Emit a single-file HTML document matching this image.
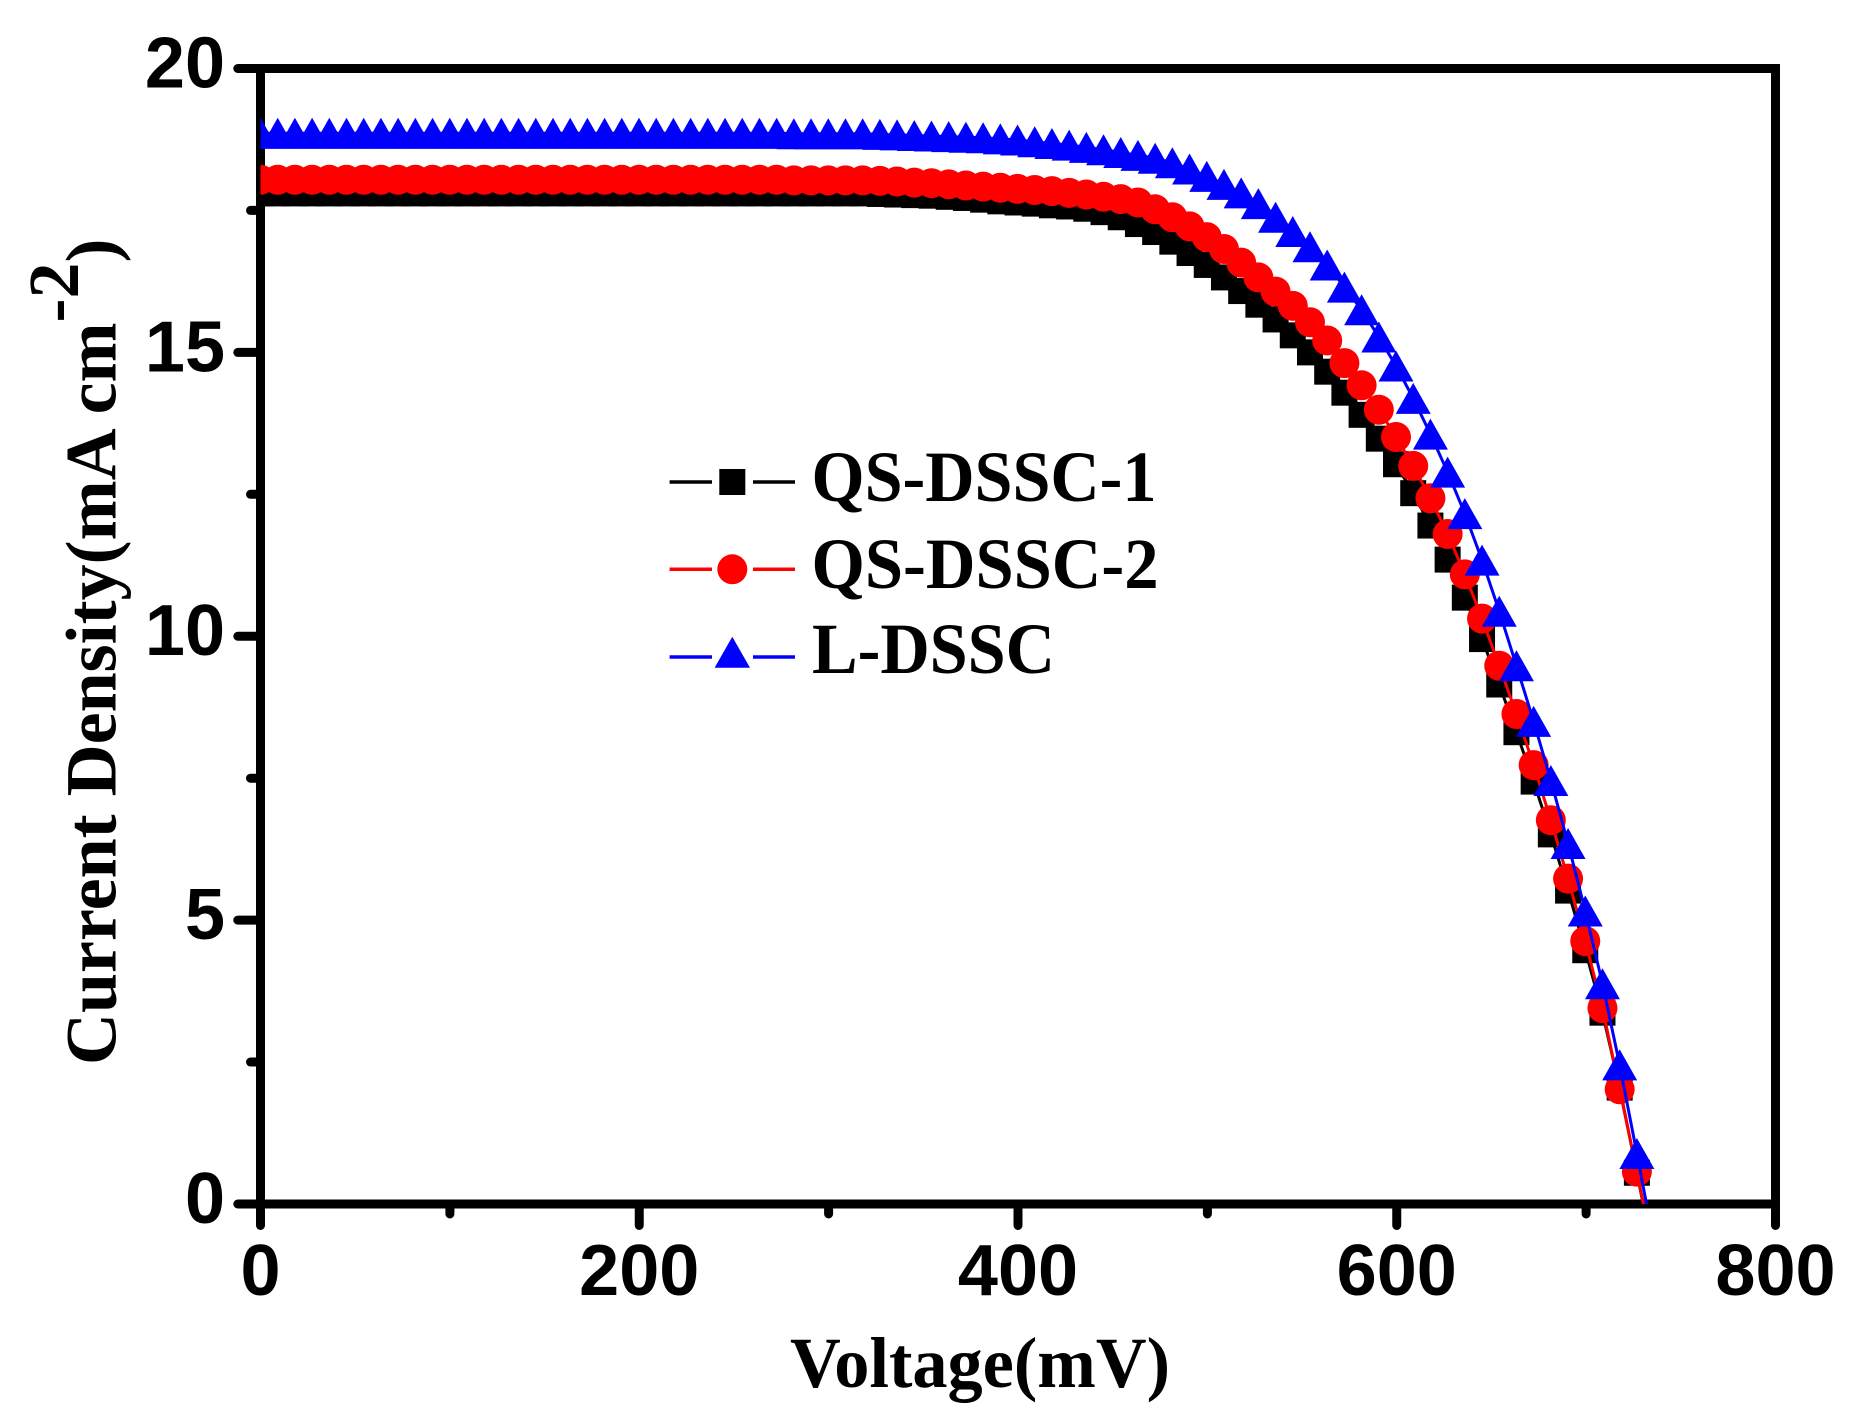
<!DOCTYPE html>
<html>
<head>
<meta charset="utf-8">
<style>
html,body{margin:0;padding:0;background:#fff;}
svg{display:block;}
.tk{font-family:"Liberation Sans",Arial,sans-serif;font-weight:bold;font-size:72px;fill:#000;}
.ti{font-family:"Liberation Serif","Times New Roman",serif;font-weight:bold;font-size:72px;fill:#000;}
</style>
</head>
<body>
<svg width="1862" height="1426" viewBox="0 0 1862 1426" xmlns="http://www.w3.org/2000/svg">
<rect width="1862" height="1426" fill="#fff"/>
<defs><clipPath id="c"><rect x="260.5" y="68.5" width="1515" height="1135.5"/></clipPath></defs>

<!-- ticks -->
<path d="M260.5 1204H237.8 M260.5 920.1H237.8 M260.5 636.25H237.8 M260.5 352.4H237.8 M260.5 68.5H237.8
 M260.5 1062.06H250.5 M260.5 778.2H250.5 M260.5 494.3H250.5 M260.5 210.4H250.5
 M260.5 1204V1225.5 M639.25 1204V1225.5 M1018 1204V1225.5 M1396.75 1204V1225.5 M1775.5 1204V1225.5
 M449.9 1204V1214 M828.6 1204V1214 M1207.4 1204V1214 M1586.1 1204V1214"
 stroke="#000" stroke-width="9" stroke-linecap="round" fill="none"/>
<!-- frame -->
<rect x="260.5" y="68.5" width="1515" height="1135.5" fill="none" stroke="#000" stroke-width="9"/>

<!-- y tick labels -->
<text class="tk" x="225" y="1223" text-anchor="end">0</text>
<text class="tk" x="225" y="939" text-anchor="end">5</text>
<text class="tk" x="225" y="655" text-anchor="end">10</text>
<text class="tk" x="225" y="371.5" text-anchor="end">15</text>
<text class="tk" x="225" y="87.5" text-anchor="end">20</text>
<!-- x tick labels -->
<text class="tk" x="260.5" y="1295" text-anchor="middle">0</text>
<text class="tk" x="639.25" y="1295" text-anchor="middle">200</text>
<text class="tk" x="1018" y="1295" text-anchor="middle">400</text>
<text class="tk" x="1396.75" y="1295" text-anchor="middle">600</text>
<text class="tk" x="1775.5" y="1295" text-anchor="middle">800</text>

<!-- data -->
<g id="data" clip-path="url(#c)"></g>

<!-- legend -->
<g>
<path d="M669.6 482H712 M753 482H795" stroke="#000" stroke-width="3.5"/>
<rect x="719.3" y="469" width="26" height="26" fill="#000"/>
<path d="M669.6 569.3H712 M753 569.3H795" stroke="#f00" stroke-width="3.5"/>
<circle cx="732.3" cy="569.3" r="15" fill="#f00"/>
<path d="M669.6 657H712 M753 657H795" stroke="#00f" stroke-width="3.5"/>
<polygon points="732.3,636.7 750,667.7 714.6,667.7" fill="#00f"/>
<text class="ti" x="811.5" y="501" textLength="345" lengthAdjust="spacingAndGlyphs">QS-DSSC-1</text>
<text class="ti" x="811.5" y="588" textLength="347" lengthAdjust="spacingAndGlyphs">QS-DSSC-2</text>
<text class="ti" x="812" y="673" textLength="243" lengthAdjust="spacingAndGlyphs">L-DSSC</text>
</g>

<!-- axis titles -->
<text class="ti" x="790" y="1387" textLength="380" lengthAdjust="spacingAndGlyphs">Voltage(mV)</text>
<text class="ti" transform="translate(115.5,1065) rotate(-90)" x="0" y="0">Current Density(mA cm<tspan dy="-37.5">-2</tspan><tspan dy="37.5">)</tspan></text>
</svg>

<script>
(function(){
var g=document.getElementById('data');
function X(v){return 260.5+v*1.89375;}
function Y(j){return 1204-j*56.775;}
var d=9.085;
function mk(flat,n,arr){var a=[];for(var i=0;i<n;i++)a.push(flat);return a.concat(arr);}
var B=mk(17.80,36,[17.79,17.78,17.77,17.76,17.74,17.72,17.69,17.66,17.64,17.62,17.59,17.57,17.53,17.47,17.38,17.26,17.12,16.95,16.75,16.54,16.32,16.08,15.84,15.58,15.30,15.0,14.66,14.29,13.90,13.48,13.03,12.52,11.95,11.35,10.68,9.95,9.15,8.31,7.44,6.51,5.52,4.47,3.37,2.05,0.55,-0.95]);
var R=mk(18.04,31,[18.03,18.03,18.03,18.03,18.03,18.02,18.01,17.99,17.98,17.96,17.94,17.92,17.90,17.88,17.86,17.84,17.81,17.78,17.74,17.70,17.64,17.52,17.38,17.22,17.03,16.82,16.58,16.32,16.07,15.82,15.53,15.21,14.81,14.42,13.99,13.51,13.0,12.43,11.80,11.09,10.31,9.48,8.63,7.73,6.76,5.73,4.63,3.45,2.02,0.57,-0.93]);
var L=mk(18.86,31,[18.85,18.85,18.85,18.85,18.85,18.84,18.83,18.82,18.81,18.80,18.79,18.78,18.76,18.74,18.71,18.68,18.65,18.61,18.57,18.52,18.47,18.42,18.34,18.23,18.10,17.96,17.81,17.62,17.38,17.13,16.86,16.54,16.15,15.75,15.27,14.76,14.19,13.56,12.89,12.16,11.34,10.44,9.48,8.50,7.46,6.35,5.16,3.88,2.45,0.89,-0.7]);
var s='';
function series(J,color,shape){
  var pts=[],k;
  for(k=0;k<J.length;k++){pts.push(X(k*d).toFixed(2)+','+Y(J[k]).toFixed(2));}
  s+='<polyline points="'+pts.join(' ')+'" fill="none" stroke="'+color+'" stroke-width="3"/>';
  for(k=0;k<J.length;k++){
    var x=X(k*d),y=Y(J[k]);
    if(shape==0){s+='<rect x="'+(x-13).toFixed(2)+'" y="'+(y-13).toFixed(2)+'" width="26" height="26" fill="'+color+'"/>';}
    else if(shape==1){s+='<circle cx="'+x.toFixed(2)+'" cy="'+y.toFixed(2)+'" r="15" fill="'+color+'"/>';}
    else{s+='<polygon points="'+x.toFixed(2)+','+(y-15.5).toFixed(2)+' '+(x+17.5).toFixed(2)+','+(y+15.5).toFixed(2)+' '+(x-17.5).toFixed(2)+','+(y+15.5).toFixed(2)+'" fill="'+color+'"/>';}
  }
}
series(B,'#000',0);
series(R,'#f00',1);
series(L,'#00f',2);
g.innerHTML=s;
})();
</script>
</body>
</html>
